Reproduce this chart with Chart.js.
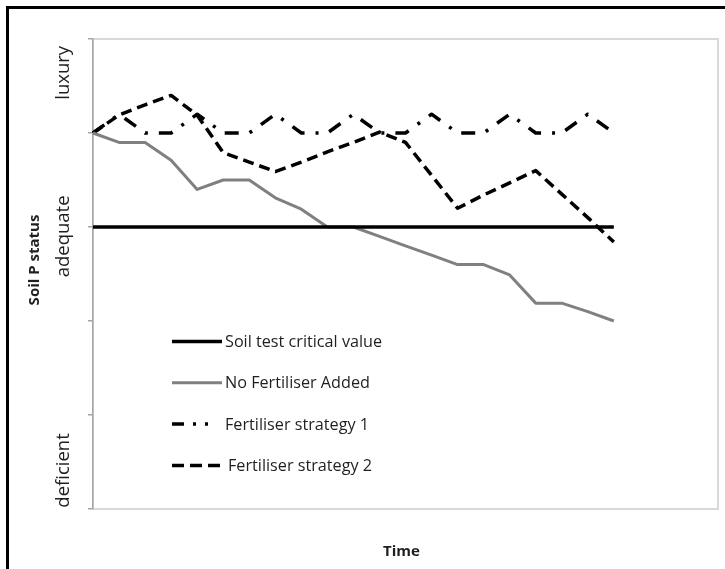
<!DOCTYPE html>
<html>
<head>
<meta charset="utf-8">
<script src="https://cdn.jsdelivr.net/npm/chart.js@4.4.1/dist/chart.umd.min.js"></script>
<style>
  html, body { margin: 0; padding: 0; background: #ffffff; }
  #wrap { width: 725px; height: 569px; position: relative; }
</style>
</head>
<body>
<div id="wrap"><canvas id="chart" width="725" height="569"></canvas></div>
<script>
// Time steps along the horizontal axis (unlabelled in the figure)
const timeSteps = ['1','2','3','4','5','6','7','8','9','10','11','12','13',
                   '14','15','16','17','18','19','20','21','22','23','24','25'];

// Soil P status levels (0 = lowest, 5 = highest)
const statusLabels = ['deficient', 'adequate', 'luxury'];
const statusLabelValues = [0.41, 2.9, 4.64];

const seriesNames = ['Soil test critical value', 'No Fertiliser Added',
                     'Fertiliser strategy 1', 'Fertiliser strategy 2'];

const criticalValue = [3.0, 3.0, 3.0, 3.0, 3.0, 3.0, 3.0, 3.0, 3.0, 3.0, 3.0,
                       3.0, 3.0, 3.0, 3.0, 3.0, 3.0, 3.0, 3.0, 3.0, 3.0];
const noFertiliser  = [4.0, 3.9, 3.9, 3.71, 3.4, 3.5, 3.5, 3.31, 3.19, 3.0, 3.0,
                       2.9, 2.8, 2.7, 2.6, 2.6, 2.49, 2.19, 2.19, 2.1, 2.0];
const strategy1     = [4.0, 4.2, 4.0, 4.0, 4.2, 4.0, 4.0, 4.2, 4.0, 4.0, 4.2,
                       4.0, 4.0, 4.2, 4.0, 4.0, 4.2, 4.0, 4.0, 4.2, 4.0];
const strategy2     = [4.0, 4.19, 4.3, 4.4, 4.19, 3.79, 3.69, 3.59, 3.69, 3.8, 3.9,
                       4.01, 3.9, 3.55, 3.2, 3.34, 3.47, 3.6, 3.35, 3.1, 2.84];

const TEXT = '#1f1f1f';
const FONT = '"Open Sans", "DejaVu Sans", sans-serif';

// Page frame, plot box, category labels, axis titles and the in-plot legend
const decorations = {
  id: 'decorations',
  beforeDraw(chart) {
    const { ctx, chartArea: a } = chart;
    ctx.save();
    ctx.fillStyle = '#ffffff';
    ctx.fillRect(0, 0, chart.width, chart.height);
    // frame (open towards the right and bottom edges)
    ctx.fillStyle = '#000000';
    ctx.fillRect(6, 6, 3, chart.height - 6);
    ctx.fillRect(6, 6, chart.width - 6, 3);
    // plot box
    ctx.strokeStyle = '#d9d9d9';
    ctx.lineWidth = 2;
    ctx.strokeRect(a.left, a.top, a.right - a.left, a.bottom - a.top);
    ctx.restore();
  },
  afterDraw(chart) {
    const { ctx, chartArea: a, scales } = chart;
    const y = scales.y;
    ctx.save();
    ctx.fillStyle = TEXT;
    ctx.textAlign = 'center';
    ctx.textBaseline = 'middle';

    // status labels, rotated
    ctx.font = '18.5px ' + FONT;
    statusLabels.forEach((lab, i) => {
      ctx.save();
      ctx.translate(a.left - 29, y.getPixelForValue(statusLabelValues[i]));
      ctx.rotate(-Math.PI / 2);
      ctx.fillText(lab, 0, 0);
      ctx.restore();
    });

    // axis titles
    ctx.font = 'bold 15px ' + FONT;
    ctx.save();
    ctx.translate(a.left - 58, 260);
    ctx.rotate(-Math.PI / 2);
    ctx.fillText('Soil P status', 0, 0);
    ctx.restore();
    ctx.fillText('Time', (a.left + a.right) / 2 - 4, 552);

    // legend inside the plot area
    const x0 = a.left + 79, sample = 50, rowGap = 41.3, top = 341.5;
    ctx.font = '16.2px ' + FONT;
    ctx.textAlign = 'left';
    chart.data.datasets.forEach((ds, i) => {
      const ry = top + i * rowGap;
      ctx.save();
      ctx.strokeStyle = ds.borderColor;
      ctx.lineWidth = ds.borderWidth;
      ctx.setLineDash(ds.legendDash || ds.borderDash || []);
      ctx.beginPath();
      ctx.moveTo(x0, ry);
      ctx.lineTo(x0 + sample, ry);
      ctx.stroke();
      ctx.restore();
      ctx.fillText(ds.label, x0 + sample + (i === 3 ? 6 : 3), ry + 1);
    });
    ctx.restore();
  }
};

const common = { pointRadius: 0, pointHoverRadius: 0, tension: 0, fill: false,
                 borderCapStyle: 'butt', borderJoinStyle: 'round' };

new Chart(document.getElementById('chart'), {
  type: 'line',
  data: {
    labels: timeSteps,
    datasets: [
      { ...common, label: seriesNames[0], data: criticalValue,
        borderColor: '#000000', borderWidth: 3.5 },
      { ...common, label: seriesNames[1], data: noFertiliser,
        borderColor: '#808080', borderWidth: 3 },
      { ...common, label: seriesNames[2], data: strategy1,
        borderColor: '#000000', borderWidth: 3.5,
        borderDash: [14, 11, 3, 11], legendDash: [12, 9, 3, 9, 3, 20] },
      { ...common, label: seriesNames[3], data: strategy2,
        borderColor: '#000000', borderWidth: 3.5,
        borderDash: [11, 6], legendDash: [12, 6] }
    ]
  },
  options: {
    responsive: false,
    animation: false,
    events: [],
    layout: { padding: { left: 88, top: 39, right: 7, bottom: 0 } },
    plugins: { legend: { display: false }, tooltip: { enabled: false }, title: { display: false } },
    scales: {
      x: {
        type: 'category',
        grid: { display: false },
        border: { display: true, color: '#d9d9d9', width: 2 },
        ticks: { display: false },
        afterFit(s) { s.height = 60; }
      },
      y: {
        min: 0, max: 5,
        ticks: { stepSize: 1, display: false },
        grid: { drawOnChartArea: false, drawTicks: true, tickLength: 5, color: '#a6a6a6', lineWidth: 1.5 },
        border: { display: true, color: '#a6a6a6', width: 1.5 },
        afterFit(s) { s.width = 5; }
      }
    }
  },
  plugins: [decorations]
});
</script>
</body>
</html>
